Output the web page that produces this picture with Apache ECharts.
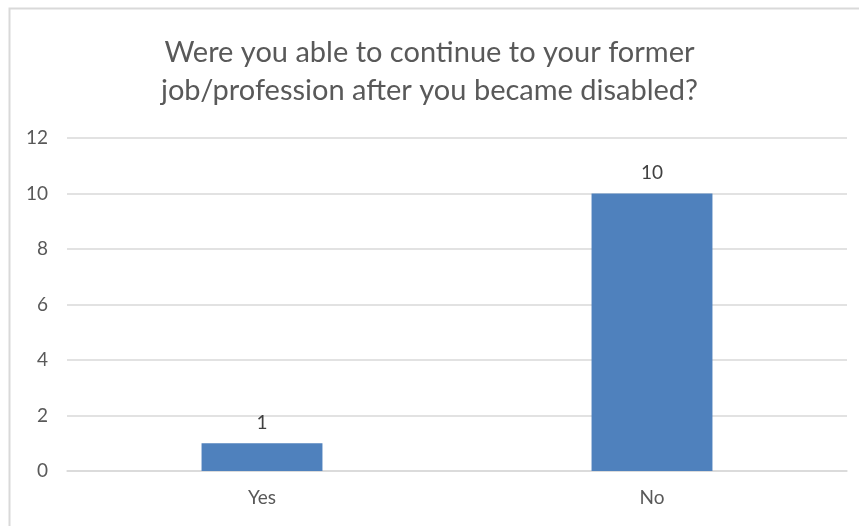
<!DOCTYPE html>
<html>
<head>
<meta charset="utf-8">
<script src="https://cdn.jsdelivr.net/npm/echarts@6/dist/echarts.min.js"></script>
<style>
  html, body { margin: 0; padding: 0; background: #fff; }
  #chart { width: 859px; height: 526px; }
</style>
</head>
<body>
<div id="chart"></div>
<script>
var categories = ['Yes', 'No'];
var counts = [1, 10];
var titleText = 'Were you able to continue to your former\njob/profession after you became disabled?';

var chart = echarts.init(document.getElementById('chart'));
chart.setOption({
  animation: false,
  backgroundColor: '#fff',
  graphic: [{
    type: 'rect',
    shape: { x: 9.5, y: 8.5, width: 870, height: 540 },
    style: { fill: '#fff', stroke: '#d9d9d9', lineWidth: 2 },
    z: -10
  }],
  title: {
    text: titleText,
    left: 'center',
    top: 29,
    textStyle: {
      color: '#595959',
      fontSize: 29,
      fontWeight: 'normal',
      fontFamily: 'Lato',
      lineHeight: 38
    }
  },
  grid: { left: 67, right: 12, top: 138, bottom: 55 },
  xAxis: {
    type: 'category',
    data: categories,
    axisTick: { show: false },
    axisLine: { lineStyle: { color: '#d9d9d9', width: 1.5 } },
    axisLabel: { color: '#595959', fontSize: 19, fontFamily: 'Lato', margin: 17 }
  },
  yAxis: {
    type: 'value',
    min: 0,
    max: 12,
    interval: 2,
    axisLine: { show: false },
    axisTick: { show: false },
    axisLabel: { color: '#595959', fontSize: 19, fontFamily: 'Lato', margin: 19 },
    splitLine: { lineStyle: { color: '#d9d9d9', width: 1.5 } }
  },
  series: [{
    type: 'bar',
    data: counts,
    barWidth: '31%',
    itemStyle: { color: '#4f81bd' },
    label: {
      show: true,
      position: 'top',
      distance: 11,
      color: '#404040',
      fontSize: 19,
      fontFamily: 'Lato'
    }
  }]
});
</script>
</body>
</html>
